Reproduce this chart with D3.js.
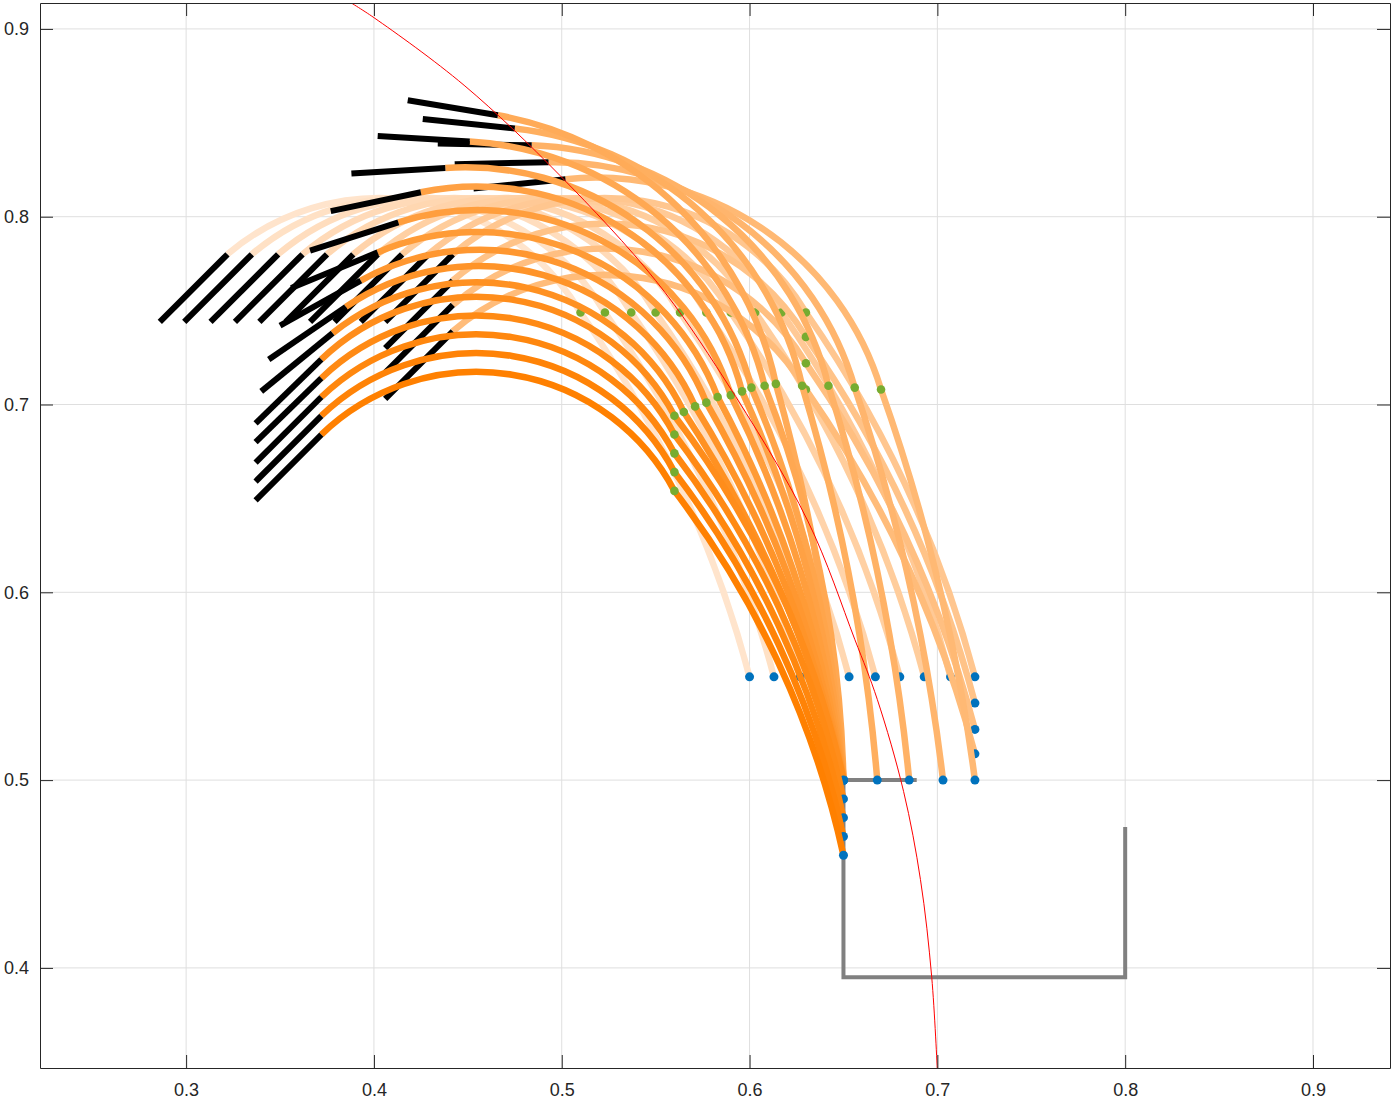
<!DOCTYPE html>
<html>
<head>
<meta charset="utf-8">
<script src="https://cdn.jsdelivr.net/npm/d3@7"></script>
<style>
	body { margin: 0; background: #fff; }
	svg text { font-family: "Liberation Sans", Arial, sans-serif; }
</style>
</head>
<body>
<div id="chart"></div>
<script>

// one entry per pose of the arm, oldest first
// base (blue dot), joint between the two sections (green dot), tip, end of the rigid tool
var baseX = [0.600, 0.613, 0.627, 0.640, 0.653, 0.667, 0.680, 0.693, 0.707, 0.720,
	0.720, 0.720, 0.720,
	0.720, 0.703, 0.685, 0.668, 0.650,
	0.650, 0.650, 0.650, 0.650, 0.650, 0.650, 0.650, 0.650,
	0.650, 0.650, 0.650, 0.650, 0.650];
var baseY = [0.555, 0.555, 0.555, 0.555, 0.555, 0.555, 0.555, 0.555, 0.555, 0.555,
	0.541, 0.527, 0.514,
	0.500, 0.500, 0.500, 0.500, 0.500,
	0.500, 0.500, 0.500, 0.500, 0.500, 0.500, 0.500, 0.500,
	0.500, 0.490, 0.480, 0.470, 0.460];
var jointX = [0.510, 0.523, 0.537, 0.550, 0.563, 0.577, 0.590, 0.603, 0.617, 0.630,
	0.630, 0.630, 0.630,
	0.670, 0.656, 0.642, 0.628, 0.614,
	0.608, 0.601, 0.596, 0.590, 0.583, 0.577, 0.571, 0.565,
	0.560, 0.560, 0.560, 0.560, 0.560];
var jointY = [0.749, 0.749, 0.749, 0.749, 0.749, 0.749, 0.749, 0.749, 0.749, 0.749,
	0.736, 0.722, 0.708,
	0.708, 0.709, 0.710, 0.710, 0.711,
	0.710, 0.709, 0.707, 0.705, 0.704, 0.701, 0.699, 0.696,
	0.694, 0.684, 0.674, 0.664, 0.654];
var tipX = [0.322, 0.335, 0.349, 0.362, 0.375, 0.389, 0.402, 0.415, 0.429, 0.442,
	0.442, 0.442, 0.442,
	0.502, 0.493, 0.484, 0.475, 0.466,
	0.451, 0.438, 0.425, 0.413, 0.402, 0.393, 0.385, 0.378,
	0.372, 0.372, 0.372, 0.372, 0.372];
var tipY = [0.780, 0.780, 0.780, 0.780, 0.780, 0.780, 0.780, 0.780, 0.780, 0.780,
	0.766, 0.753, 0.739,
	0.820, 0.829, 0.838, 0.847, 0.854,
	0.840, 0.826, 0.813, 0.797, 0.781, 0.766, 0.752, 0.738,
	0.724, 0.714, 0.704, 0.694, 0.684];
var endX = [0.286, 0.299, 0.313, 0.326, 0.339, 0.353, 0.366, 0.379, 0.393, 0.406,
	0.406, 0.406, 0.406,
	0.453, 0.443, 0.434, 0.426, 0.418,
	0.402, 0.388, 0.377, 0.366, 0.356, 0.350, 0.344, 0.340,
	0.337, 0.337, 0.337, 0.337, 0.337];
var endY = [0.744, 0.744, 0.744, 0.744, 0.744, 0.744, 0.744, 0.744, 0.744, 0.744,
	0.730, 0.717, 0.703,
	0.815, 0.828, 0.839, 0.852, 0.862,
	0.843, 0.823, 0.803, 0.782, 0.762, 0.742, 0.724, 0.707,
	0.690, 0.680, 0.669, 0.659, 0.649];
// how far each section turns, degrees
var bend1 = [20, 20, 20, 20, 20, 20, 20, 20, 20, 20,
	20, 20, 20,
	12, 12, 12, 12, 12,
	20, 20, 20, 20, 20, 20, 20, 20,
	25, 25, 25, 25, 25];
var bend2 = [100, 100, 100, 100, 100, 100, 100, 100, 100, 100,
	100, 100, 100,
	79, 75, 74, 71, 68,
	73, 79, 87, 90, 92, 97, 100, 103,
	106, 106, 106, 106, 106];

// red boundary curve
var redX = [0.386, 0.400, 0.448, 0.499, 0.550, 0.587, 0.631, 0.656, 0.668, 0.682, 0.691, 0.697, 0.700];
var redY = [0.915, 0.906, 0.870, 0.822, 0.766, 0.713, 0.638, 0.575, 0.543, 0.494, 0.447, 0.395, 0.345];

// grey reference path
var pathX = [0.689, 0.650, 0.650, 0.800, 0.800];
var pathY = [0.500, 0.500, 0.395, 0.395, 0.475];

var xTicks = [0.3, 0.4, 0.5, 0.6, 0.7, 0.8, 0.9];
var yTicks = [0.4, 0.5, 0.6, 0.7, 0.8, 0.9];

var width = 1395,
	height = 1102;
var margin = { top: 3, right: 5, bottom: 34, left: 40 };
var w = width - margin.left - margin.right,
	h = height - margin.top - margin.bottom;

var x = d3.scaleLinear().domain([0.2222, 0.9410]).range([0, w]);
var y = d3.scaleLinear().domain([0.3467, 0.9138]).range([h, 0]);

var poses = baseX.map(function(d, i) {
	return {
		base: [baseX[i], baseY[i]],
		joint: [jointX[i], jointY[i]],
		tip: [tipX[i], tipY[i]],
		end: [endX[i], endY[i]],
		bend1: bend1[i],
		bend2: bend2[i]
	};
});

var color = d3.scaleLinear()
	.domain([0, poses.length - 1])
	.range(["#ffe4cc", "#ff8000"]);

var svg = d3.select("#chart").append("svg")
	.attr("width", width)
	.attr("height", height)
	.append("g")
	.attr("transform", `translate(${margin.left},${margin.top})`);

svg.append("clipPath").attr("id", "clip")
	.append("rect").attr("width", w).attr("height", h);

// grid
var grid = svg.append("g").attr("stroke", "#dfdfdf").attr("stroke-width", 1);
grid.selectAll(".gx").data(xTicks).enter().append("line")
	.attr("x1", d => x(d)).attr("x2", d => x(d))
	.attr("y1", 0).attr("y2", h);
grid.selectAll(".gy").data(yTicks).enter().append("line")
	.attr("y1", d => y(d)).attr("y2", d => y(d))
	.attr("x1", 0).attr("x2", w);

var plot = svg.append("g").attr("clip-path", "url(#clip)");

var pt = p => [x(p[0]), y(p[1])];

// circular arc from a to b turning left by deg
function arc(a, b, deg) {
	var dx = b[0] - a[0], dy = b[1] - a[1];
	var r = Math.sqrt(dx * dx + dy * dy) / (2 * Math.sin(deg * Math.PI / 360));
	return `A${r},${r} 0 0 0 ${b[0]},${b[1]}`;
}

var line = d3.line();

plot.append("path")
	.attr("d", line(pathX.map((d, i) => [x(d), y(pathY[i])])))
	.attr("fill", "none")
	.attr("stroke", "#808080")
	.attr("stroke-width", 4);

var pose = plot.selectAll(".pose")
	.data(poses)
	.enter()
	.append("g")
	.attr("class", "pose");

pose.append("path")
	.attr("d", d => {
		var b = pt(d.base), j = pt(d.joint), t = pt(d.tip);
		return `M${b[0]},${b[1]}` + arc(b, j, d.bend1) + arc(j, t, d.bend2);
	})
	.attr("fill", "none")
	.attr("stroke", (d, i) => color(i))
	.attr("stroke-width", 6.5);

pose.append("path")
	.attr("d", d => line([pt(d.tip), pt(d.end)]))
	.attr("stroke", "#000")
	.attr("stroke-width", 6);

pose.append("circle")
	.attr("cx", d => x(d.joint[0]))
	.attr("cy", d => y(d.joint[1]))
	.attr("r", 4.3)
	.attr("fill", "#77ac30");

pose.append("circle")
	.attr("cx", d => x(d.base[0]))
	.attr("cy", d => y(d.base[1]))
	.attr("r", 4.5)
	.attr("fill", "#0072bd");

plot.append("path")
	.attr("d", line.curve(d3.curveCatmullRom)(redX.map((d, i) => [x(d), y(redY[i])])))
	.attr("fill", "none")
	.attr("stroke", "#ff0000")
	.attr("stroke-width", 1);

// axes, ticks pointing inwards on all four sides
var fmt = d3.format(".1f");
var axes = [
	svg.append("g").attr("transform", `translate(0,${h})`)
		.call(d3.axisBottom(x).tickValues(xTicks).tickFormat(fmt).tickSize(-13).tickSizeOuter(0).tickPadding(15)),
	svg.append("g")
		.call(d3.axisLeft(y).tickValues(yTicks).tickFormat(fmt).tickSize(-13).tickSizeOuter(0).tickPadding(11)),
	svg.append("g")
		.call(d3.axisTop(x).tickValues(xTicks).tickFormat("").tickSize(-13).tickSizeOuter(0)),
	svg.append("g").attr("transform", `translate(${w},0)`)
		.call(d3.axisRight(y).tickValues(yTicks).tickFormat("").tickSize(-13).tickSizeOuter(0))
];
axes.forEach(a => {
	a.selectAll("path, line").attr("stroke", "#262626");
	a.selectAll("text").attr("fill", "#262626").style("font-size", "18px");
});

</script>
</body>
</html>
